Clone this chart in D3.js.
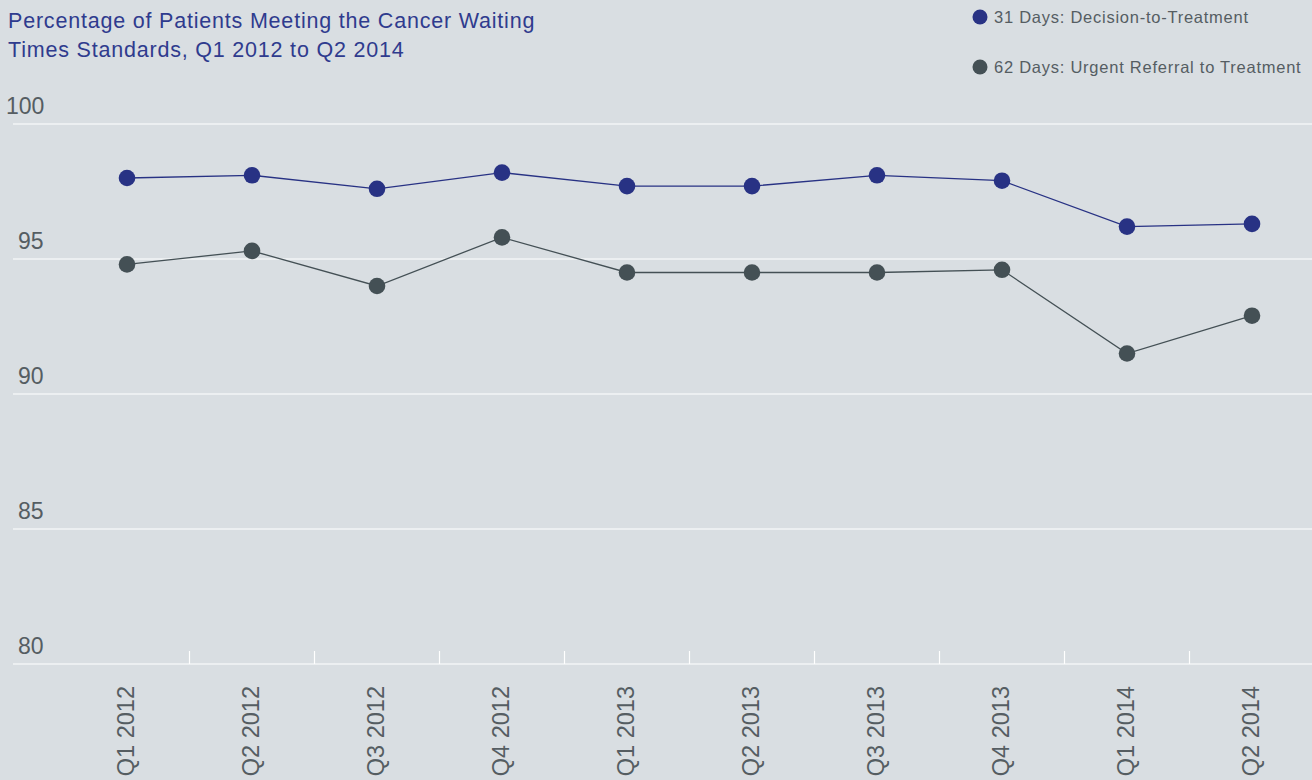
<!DOCTYPE html>
<html>
<head>
<meta charset="utf-8">
<script src="https://cdn.jsdelivr.net/npm/d3@7"></script>
<style>
  body { margin: 0; background: #d9dee2; }
  svg { display: block; font-family: "Liberation Sans", Arial, sans-serif; }
</style>
</head>
<body>
<svg id="chart"></svg>
<script>
const quarters = ['Q1 2012', 'Q2 2012', 'Q3 2012', 'Q4 2012', 'Q1 2013',
                  'Q2 2013', 'Q3 2013', 'Q4 2013', 'Q1 2014', 'Q2 2014'];
const days31 = [98.0, 98.1, 97.6, 98.2, 97.7, 97.7, 98.1, 97.9, 96.2, 96.3];
const days62 = [94.8, 95.3, 94.0, 95.8, 94.5, 94.5, 94.5, 94.6, 91.5, 92.9];
const yTicks = [80, 85, 90, 95, 100];
const seriesNames = ['31 Days: Decision-to-Treatment', '62 Days: Urgent Referral to Treatment'];
const seriesColors = ['#283284', '#445055'];

const width = 1312, height = 780;
const svg = d3.select('#chart').attr('width', width).attr('height', height);

const x = d3.scaleBand().domain(quarters).range([64.5, 1314.5]);
const y = d3.scaleLinear().domain([80, 100]).range([664, 124]);

// title
svg.append('text')
    .attr('x', 8).attr('y', 28)
    .attr('fill', '#2f3b8e')
    .style('font-size', '21.5px')
    .style('letter-spacing', '0.8px')
    .selectAll('tspan')
    .data(['Percentage of Patients Meeting the Cancer Waiting', 'Times Standards, Q1 2012 to Q2 2014'])
    .join('tspan')
    .attr('x', 8)
    .attr('dy', (d, i) => i ? 29 : 0)
    .text(d => d);

// gridlines + y labels
const grid = svg.append('g');
grid.selectAll('line')
    .data(yTicks)
    .join('line')
    .attr('x1', 13).attr('x2', width)
    .attr('y1', d => y(d)).attr('y2', d => y(d))
    .attr('stroke', '#ffffff').attr('stroke-width', 1.2);
grid.selectAll('text')
    .data(yTicks)
    .join('text')
    .attr('x', d => d === 100 ? 6 : 18)
    .attr('y', d => y(d) - 10)
    .attr('fill', '#555d62')
    .style('font-size', '23px')
    .text(d => d);

// x ticks between categories
svg.append('g').selectAll('line')
    .data(quarters.slice(1))
    .join('line')
    .attr('x1', d => x(d)).attr('x2', d => x(d))
    .attr('y1', 651).attr('y2', 664)
    .attr('stroke', '#ffffff').attr('stroke-width', 1.2);

// x labels
svg.append('g').selectAll('text')
    .data(quarters)
    .join('text')
    .attr('transform', d => `translate(${x(d) + x.bandwidth() / 2 + 7},686) rotate(-90)`)
    .attr('text-anchor', 'end')
    .attr('fill', '#555d62')
    .style('font-size', '23.5px')
    .text(d => d);

// lines and points
const line = d3.line()
    .x((d, i) => x(quarters[i]) + x.bandwidth() / 2)
    .y(d => y(d));

[days31, days62].forEach((vals, k) => {
    svg.append('path')
        .datum(vals)
        .attr('d', line)
        .attr('fill', 'none')
        .attr('stroke', seriesColors[k])
        .attr('stroke-width', 1.3);
    svg.append('g').selectAll('circle')
        .data(vals)
        .join('circle')
        .attr('cx', (d, i) => x(quarters[i]) + x.bandwidth() / 2)
        .attr('cy', d => y(d))
        .attr('r', 8.3)
        .attr('fill', seriesColors[k]);
});

// legend
const legend = svg.append('g').selectAll('g')
    .data(seriesNames)
    .join('g')
    .attr('transform', (d, i) => `translate(980,${17 + i * 50})`);
legend.append('circle')
    .attr('r', 7.5)
    .attr('fill', (d, i) => seriesColors[i]);
legend.append('text')
    .attr('x', 14).attr('y', 6)
    .attr('fill', '#555d62')
    .style('font-size', '16.5px')
    .style('letter-spacing', '0.75px')
    .text(d => d);
</script>
</body>
</html>
